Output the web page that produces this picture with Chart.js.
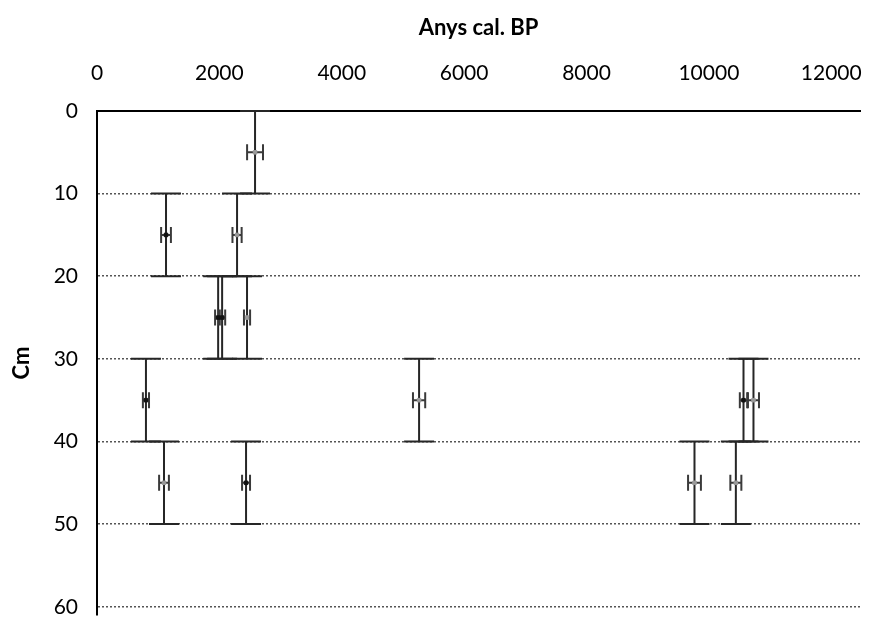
<!DOCTYPE html>
<html><head><meta charset="utf-8">
<script src="https://cdn.jsdelivr.net/npm/chart.js@4"></script>
<style>html,body{margin:0;padding:0;background:#fff}canvas{display:block}</style>
</head><body><canvas id="c" width="874" height="620" style="width:874px;height:620px"></canvas>
<script>
const xTitle = 'Anys cal. BP';
const yTitle = 'Cm';
const xTickValues = [0,2000,4000,6000,8000,10000,12000];
const yTickValues = [0,10,20,30,40,50,60];
const ages     = [2583,1128,2289,1980,2045,2452, 800,5264,10566,10729,1095,2436,9765,10441];
const depths   = [   5,  15,  15,  25,  25,  25,  35,  35,   35,   35,  45,  45,  45,   45];
const ageErr   = [ 130,  80,  75,  50,  50,  50,  50, 100,   60,   90,  80,  65, 105,   90];
const depthErr = [   5,   5,   5,   5,   5,   5,   5,   5,    5,    5,   5,   5,   5,    5];
const darkMarker = [false,true,false,true,true,false,true,false,true,false,false,true,false,false];

const pts = ages.map((a,i)=>({x:a,y:depths[i]}));

const errPlugin = {
  id:'errbars',
  beforeDatasetsDraw(chart){
    const ctx = chart.ctx, xs = chart.scales.x, ys = chart.scales.y;
    ctx.save();
    ctx.strokeStyle = '#262626';
    ctx.lineWidth = 2;
    for(let i=0;i<ages.length;i++){
      const px = xs.getPixelForValue(ages[i]);
      const y1 = ys.getPixelForValue(depths[i]-depthErr[i]);
      const y2 = ys.getPixelForValue(depths[i]+depthErr[i]);
      ctx.beginPath();
      ctx.moveTo(px,y1); ctx.lineTo(px,y2);
      ctx.moveTo(px-15,y1); ctx.lineTo(px+15,y1);
      ctx.moveTo(px-15,y2); ctx.lineTo(px+15,y2);
      ctx.stroke();
    }
    ctx.strokeStyle = '#3a3a3a';
    for(let i=0;i<ages.length;i++){
      const py = ys.getPixelForValue(depths[i]);
      const x1 = xs.getPixelForValue(ages[i]-ageErr[i]);
      const x2 = xs.getPixelForValue(ages[i]+ageErr[i]);
      ctx.beginPath();
      ctx.moveTo(x1,py); ctx.lineTo(x2,py);
      ctx.moveTo(x1,py-8); ctx.lineTo(x1,py+8);
      ctx.moveTo(x2,py-8); ctx.lineTo(x2,py+8);
      ctx.stroke();
    }
    ctx.restore();
  }
};

new Chart(document.getElementById('c'),{
  type:'scatter',
  data:{datasets:[{
    data:pts,
    pointStyle:'rect',
    pointRadius:2.5,
    pointBackgroundColor:darkMarker.map(d=>d?'#111':'#9a9a9a'),
    pointBorderColor:darkMarker.map(d=>d?'#111':'#9a9a9a'),
    pointBorderWidth:1
  }]},
  options:{
    responsive:false,animation:false,devicePixelRatio:1,
    layout:{padding:{left:0,right:14,top:0,bottom:0}},
    plugins:{legend:{display:false},tooltip:{enabled:false}},
    scales:{
      x:{type:'linear',position:'top',min:0,max:12470,
        afterBuildTicks(s){s.ticks=xTickValues.map(v=>({value:v}));},
        afterFit(s){s.height=111;s.paddingLeft=0;s.paddingRight=0;},
        grid:{display:false,drawTicks:false},
        border:{display:true,color:'#000',width:2},
        ticks:{padding:25,color:'#000',font:{family:'Lato',size:21},maxRotation:0,autoSkip:false,callback:v=>String(v)},
        title:{display:true,text:xTitle,color:'#000',font:{family:'Lato',size:22,weight:'bold'},padding:{top:15,bottom:0}}
      },
      y:{type:'linear',reverse:true,min:0,max:61,
        afterBuildTicks(s){s.ticks=yTickValues.map(v=>({value:v}));},
        afterFit(s){s.width=97;s.paddingTop=0;s.paddingBottom=0;},
        grid:{display:true,drawTicks:false,color:'#555',lineWidth:1.5},
        border:{display:true,color:'#000',width:2,dash:[2,2]},
        ticks:{padding:19,color:'#000',font:{family:'Lato',size:21},callback:v=>String(v)},
        title:{display:true,text:yTitle,color:'#000',font:{family:'Lato',size:22,weight:'bold'},padding:{top:9,bottom:0}}
      }
    }
  },
  plugins:[errPlugin]
});
</script></body></html>
